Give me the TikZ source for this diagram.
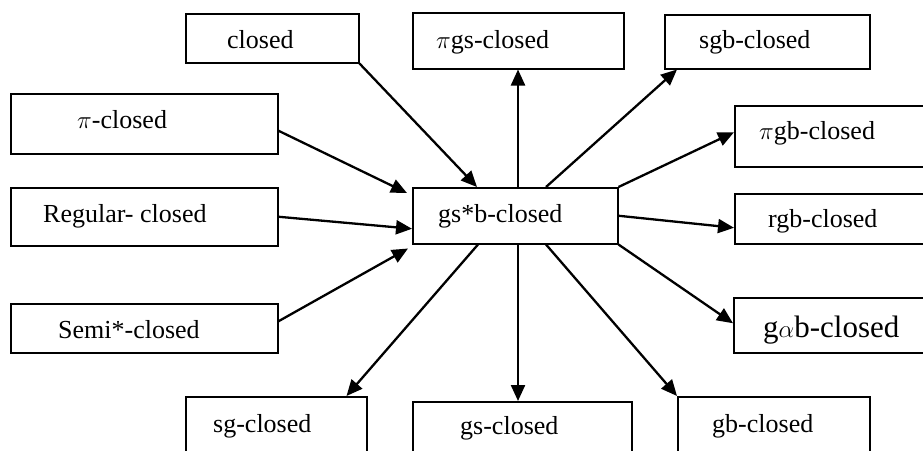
\documentclass[tikz,border=0pt]{standalone}
\usepackage{fontspec}
\setmainfont{Liberation Serif}
\usetikzlibrary{arrows.meta}
\begin{document}
\begin{tikzpicture}[x=1pt,y=-1pt,
  box/.style={draw=black, line width=1.5pt, inner sep=0pt, anchor=north west, minimum width=#1},
  txt/.style={anchor=base west, inner sep=0pt, font=\fontsize{26}{30}\selectfont},
  arr/.style={line width=2.3pt, -{Triangle[length=16pt,width=14pt]}}]
\useasboundingbox (0,0) rectangle (923,450);
\clip (0,0) rectangle (923,450);
% boxes
\node[box=173pt, minimum height=49pt] (closed) at (185,13) {};
\node[box=211pt, minimum height=56pt] (pgs) at (412,12) {};
\node[box=205pt, minimum height=54pt] (sgb) at (664,14) {};
\node[box=267pt, minimum height=60pt] (pic) at (10,93) {};
\node[box=220pt, minimum height=61pt] (pgb) at (734,105) {};
\node[box=267pt, minimum height=58pt] (reg) at (10,187) {};
\node[box=205pt, minimum height=56pt] (gsb) at (412,187) {};
\node[box=220pt, minimum height=50pt] (rgb) at (734,193) {};
\node[box=267pt, minimum height=49pt] (semi) at (10,303) {};
\node[box=220pt, minimum height=55pt] (gab) at (733,297) {};
\node[box=181pt, minimum height=80pt] (sg) at (185,396) {};
\node[box=219pt, minimum height=80pt] (gs) at (412,401) {};
\node[box=192pt, minimum height=80pt] (gb) at (677,396) {};
% texts
\node[txt] (tclosed) at (227,48) {closed};
\node[txt] (tpgs) at (436,48) {$\pi$gs-closed};
\node[txt] (tsgb) at (699,48) {sgb-closed};
\node[txt] (tpic) at (77,128) {$\pi$-closed};
\node[txt] (tpgb) at (759,139) {$\pi$gb-closed};
\node[txt] (treg) at (43,222) {Regular- closed};
\node[txt] (tgsb) at (438,222) {gs*b-closed};
\node[txt] (trgb) at (768,227) {rgb-closed};
\node[txt] (tsemi) at (58,338) {Semi*-closed};
\node[txt, font=\fontsize{31}{36}\selectfont] (tgab) at (763,337) {g$\alpha$b-closed};
\node[txt] (tsg) at (213,432) {sg-closed};
\node[txt] (tgs) at (460,434) {gs-closed};
\node[txt] (tgb) at (712,432) {gb-closed};
% arrows into gs*b
\draw[arr] (closed.south east) -- ([xshift=65pt]gsb.north west);
\draw[arr] ([yshift=-7pt]pic.east) -- ([xshift=-5pt,yshift=-6pt]gsb.north west);
\draw[arr] (reg.east) -- ([yshift=-13pt]gsb.west);
\draw[arr] ([yshift=7pt]semi.east) -- ([xshift=-4pt,yshift=-4pt]gsb.south west);
% arrows out of gs*b
\draw[arr] ([xshift=106pt]gsb.north west) -- ([xshift=106pt]pgs.south west);
\draw[arr] ([xshift=134pt]gsb.north west) -- ([xshift=13pt]sgb.south west);
\draw[arr] (gsb.north east) -- ([yshift=4pt]pgb.west);
\draw[arr] (gsb.east) -- ([yshift=-9pt]rgb.west);
\draw[arr] (gsb.south east) -- ([yshift=2pt]gab.west);
\draw[arr] ([xshift=134pt]gsb.south west) -- (gb.north west);
\draw[arr] ([xshift=106pt]gsb.south west) -- ([xshift=106pt]gs.north west);
\draw[arr] ([xshift=66pt]gsb.south west) -- ([xshift=-21pt]sg.north east);
\end{tikzpicture}
\end{document}
